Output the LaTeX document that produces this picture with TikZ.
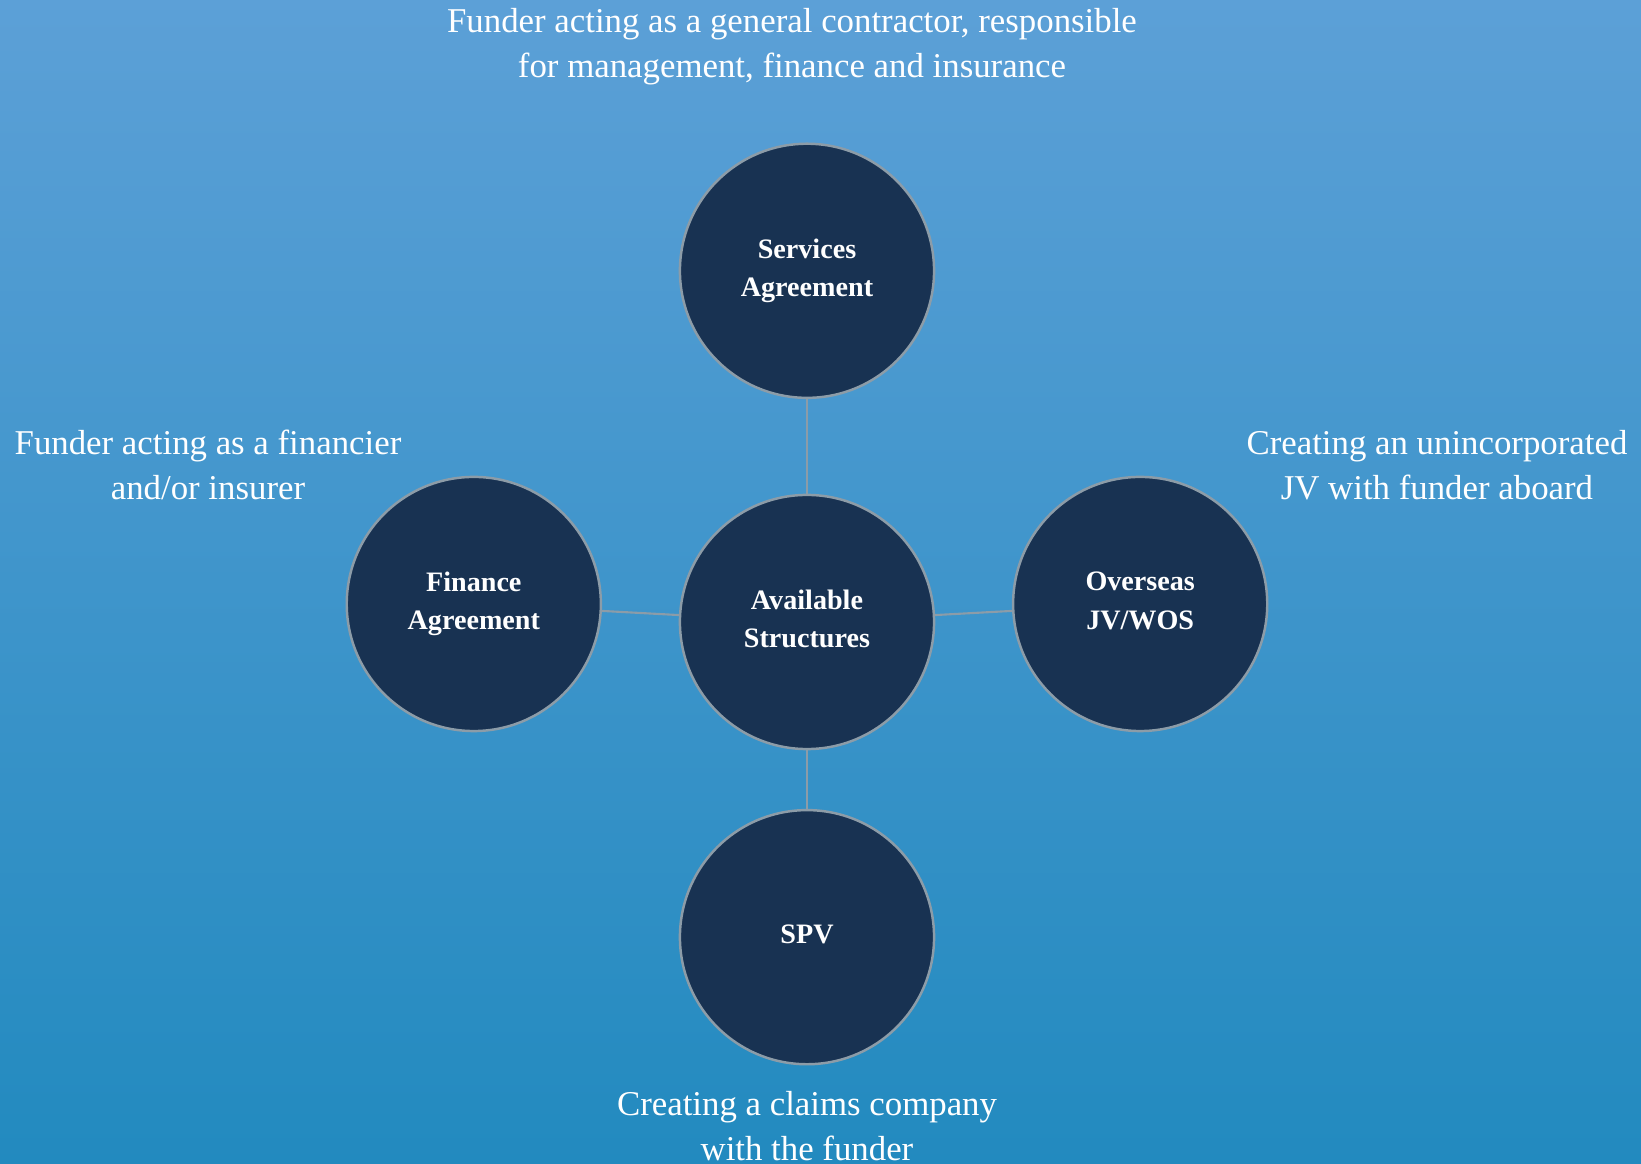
\documentclass[tikz,border=0pt]{standalone}
\usepackage{fontspec}
\setmainfont{Liberation Serif}
\usetikzlibrary{positioning}
\definecolor{bgtop}{HTML}{5CA0D7}
\definecolor{bgbot}{HTML}{228ABF}
\definecolor{circfill}{HTML}{183252}
\definecolor{circline}{HTML}{8C9CA8}
\begin{document}
\begin{tikzpicture}[
  x=0.01cm, y=-0.01cm,
  circ/.style={circle, draw=circline, line width=0.7pt, fill=circfill, minimum size=2.54cm, inner sep=0pt,
    text=white, align=center, text depth=1.8pt, font=\bfseries\fontsize{8}{10.9}\selectfont},
  note/.style={text=white, align=center, font=\fontsize{9.9}{12.8}\selectfont},
  link/.style={draw=circline, line width=0.6pt},
  node distance=3cm
]
\useasboundingbox (0,0) rectangle (1641,1164);
\fill[top color=bgtop, bottom color=bgbot] (0,0) rectangle (1641,1164);

\node[circ] (avail) at (807,622) {Available\\Structures};
\node[circ, above of=avail, node distance=3.51cm] (services) {Services\\Agreement};
\node[circ, left of=avail, node distance=3.33cm, yshift=0.18cm] (finance) {Finance\\Agreement};
\node[circ, right of=avail, node distance=3.33cm, yshift=0.18cm] (overseas) {Overseas\\JV/WOS};
\node[circ, below of=avail, node distance=3.15cm] (spv) {SPV};

\node[note] (servicestxt) at (792,47) {Funder acting as a general contractor, responsible\\for management, finance and insurance};
\node[note] (financetxt) at (208,465) {Funder acting as a financier\\and/or insurer};
\node[note] (overseastxt) at (1437,465) {Creating an unincorporated\\JV with funder aboard};
\node[note] (spvtxt) at (807,1126) {Creating a claims company\\with the funder};

\draw[link] (avail) -- (services);
\draw[link] (avail) -- (finance);
\draw[link] (avail) -- (overseas);
\draw[link] (avail) -- (spv);
\end{tikzpicture}
\end{document}
